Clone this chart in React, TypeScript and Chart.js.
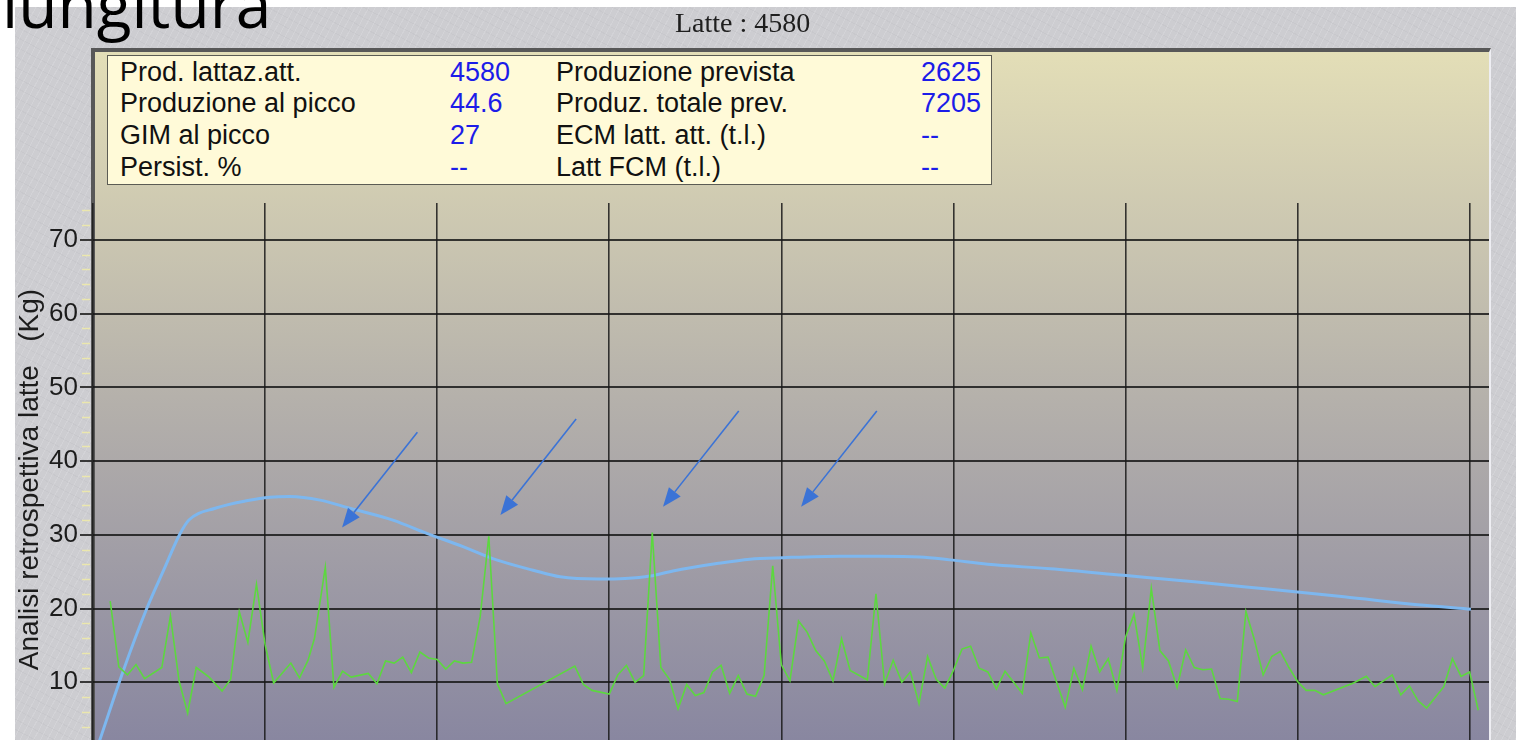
import React, { useEffect, useRef } from 'react';
import { Chart, registerables } from 'chart.js';

Chart.register(...registerables);

// ---- Data ----
const greenDays = [
  4, 6, 8, 10, 12, 16, 18, 20, 22, 24, 27, 30, 32, 34, 36, 38, 40, 42, 46, 48,
  50, 51.5, 54, 56, 58, 60, 64, 66, 68, 70, 72, 74, 76, 78, 80, 82, 84, 86, 88, 90,
  92, 94, 96, 112, 114, 116, 120, 122, 124, 126, 128, 130, 132, 134, 136, 138, 140, 142, 144, 146,
  148, 150, 152, 154, 156, 158, 160, 162, 164, 166, 168, 170, 172, 174, 176, 180, 182, 184, 186, 188,
  190, 192, 194, 196, 198, 200, 202, 204, 206, 208, 210, 212, 216, 218, 220, 222, 224, 226, 228, 230,
  232, 234, 236, 238, 240, 242, 244, 246, 248, 250, 252, 254, 256, 258, 260, 262, 264, 266, 268, 270,
  272, 274, 276, 278, 280, 282, 284, 286, 293, 296, 298, 302, 304, 306, 308, 310, 314, 316, 318, 320, 322,
];
const greenValues = [
  21.0, 12.1, 11.0, 12.4, 10.5, 12.0, 19.0, 10.2, 5.8, 12.0, 10.7, 8.8, 10.4, 19.6, 15.4, 23.3, 15.1, 9.9, 12.6, 10.6,
  13.0, 16.0, 25.6, 9.3, 11.5, 10.7, 11.2, 9.8, 12.9, 12.6, 13.4, 11.3, 14.1, 13.3, 13.1, 11.8, 12.9, 12.6, 12.7, 18.9,
  29.8, 9.8, 7.1, 12.2, 9.7, 8.9, 8.4, 11.0, 12.3, 10.0, 10.9, 30.3, 12.0, 10.4, 6.4, 9.7, 8.2, 8.6, 11.4, 12.3,
  8.5, 10.9, 8.4, 8.1, 10.9, 25.8, 12.4, 10.2, 18.3, 16.8, 14.3, 12.9, 10.2, 15.9, 11.6, 10.3, 22.0, 9.8, 13.0, 10.0,
  11.4, 7.1, 13.5, 10.4, 9.2, 11.6, 14.5, 14.9, 11.9, 11.4, 9.1, 11.5, 8.5, 16.7, 13.3, 13.4, 10.0, 6.6, 11.9, 9.0,
  14.9, 11.4, 13.2, 8.9, 16.1, 19.2, 12.0, 22.7, 14.3, 12.9, 9.3, 14.4, 12.0, 11.7, 11.8, 7.8, 7.7, 7.4, 19.6, 15.7,
  11.0, 13.5, 14.2, 12.0, 10.1, 8.9, 8.9, 8.3, 9.9, 10.8, 9.4, 11.0, 8.3, 9.5, 7.5, 6.5, 9.4, 13.2, 10.8, 11.4, 6.2,
];

const curveDays = [
  0.3, 1.6, 7, 12.5, 16.5, 20.2, 22.3, 28.4, 36.0, 41.1, 45.8, 52.8, 59.7, 69.7, 77.6, 86.0, 93.8, 102.3,
  108.6, 117.4, 123.7, 129.5, 134.8, 145.0, 152.7, 160.4, 173.6, 182.9, 192.2, 199.2, 208.0, 222.5,
  239.6, 256.6, 273.7, 290.8, 307.9, 320.3,
];
const curveValues = [
  0.0, 2.2, 11.5, 20.0, 25.3, 30.1, 32.0, 33.6, 34.65, 35.1, 35.2, 34.7, 33.6, 32.0, 30.2, 28.4, 26.6, 25.2,
  24.3, 24.0, 24.07, 24.4, 25.1, 26.1, 26.7, 26.9, 27.1, 27.1, 27.0, 26.6, 26.0, 25.4,
  24.5, 23.6, 22.6, 21.6, 20.5, 19.9,
];

const arrowFromDays = [75.4, 112.3, 150.1, 182.2];
const arrowFromValues = [43.9, 45.7, 46.8, 46.8];
const arrowToDays = [57.9, 94.7, 132.5, 164.6];
const arrowToValues = [31.0, 32.7, 33.8, 33.8];

const infoLabelsLeft = ['Prod. lattaz.att.', 'Produzione al picco', 'GIM al picco', 'Persist. %'];
const infoValuesLeft = ['4580', '44.6', '27', '--'];
const infoLabelsRight = ['Produzione prevista', 'Produz. totale prev.', 'ECM latt. att. (t.l.)', 'Latt FCM (t.l.)'];
const infoValuesRight = ['2625', '7205', '--', '--'];

const chartTitle = 'Latte : 4580';
const yAxisTitle = 'Analisi retrospettiva latte   (Kg)';
const slideHeading = 'lungitura';

const SANS = "'Liberation Sans', Arial, sans-serif";

const arrowPlugin = {
  id: 'arrowsAnnot',
  afterDatasetsDraw(chart: any) {
    const { ctx } = chart;
    const xs = chart.scales.x;
    const ys = chart.scales.y;
    ctx.save();
    ctx.strokeStyle = '#3b73d6';
    ctx.fillStyle = '#3b73d6';
    ctx.lineWidth = 1.6;
    for (let i = 0; i < arrowFromDays.length; i++) {
      const x1 = xs.getPixelForValue(arrowFromDays[i]);
      const y1 = ys.getPixelForValue(arrowFromValues[i]);
      const x2 = xs.getPixelForValue(arrowToDays[i]);
      const y2 = ys.getPixelForValue(arrowToValues[i]);
      const a = Math.atan2(y2 - y1, x2 - x1);
      const head = 19;
      const half = 7.5;
      const bx = x2 - head * Math.cos(a);
      const by = y2 - head * Math.sin(a);
      ctx.beginPath();
      ctx.moveTo(x1, y1);
      ctx.lineTo(bx, by);
      ctx.stroke();
      ctx.beginPath();
      ctx.moveTo(x2, y2);
      ctx.lineTo(bx + half * Math.sin(a), by - half * Math.cos(a));
      ctx.lineTo(bx - half * Math.sin(a), by + half * Math.cos(a));
      ctx.closePath();
      ctx.fill();
    }
    ctx.restore();
  },
};

const minorTickPlugin = {
  id: 'minorTicks',
  afterDraw(chart: any) {
    const { ctx, chartArea } = chart;
    const ys = chart.scales.y;
    ctx.save();
    ctx.strokeStyle = '#ebe7ad';
    ctx.lineWidth = 1.5;
    for (let v = 2; v < 75; v += 2) {
      if (v % 10 === 0) continue;
      const py = Math.round(ys.getPixelForValue(v)) + 0.5;
      ctx.beginPath();
      ctx.moveTo(chartArea.left - 11, py);
      ctx.lineTo(chartArea.left - 3, py);
      ctx.stroke();
    }
    ctx.restore();
  },
};

export default function App() {
  const canvasRef = useRef<HTMLCanvasElement | null>(null);

  useEffect(() => {
    if (!canvasRef.current) return;
    const chart = new Chart(canvasRef.current, {
      type: 'line',
      data: {
        datasets: [
          {
            label: 'Latte',
            data: greenDays.map((d, i) => ({ x: d, y: greenValues[i] })),
            borderColor: '#5cd83f',
            borderWidth: 1.6,
            pointRadius: 0,
            tension: 0,
            fill: false,
          },
          {
            label: 'Curva',
            data: curveDays.map((d, i) => ({ x: d, y: curveValues[i] })),
            borderColor: '#7db7ef',
            borderWidth: 3,
            pointRadius: 0,
            cubicInterpolationMode: 'monotone',
            fill: false,
          },
        ],
      },
      options: {
        animation: false,
        responsive: false,
        events: [],
        layout: { padding: { top: 203, right: 27, left: 0, bottom: 0 } },
        plugins: {
          legend: { display: false },
          title: { display: false },
          tooltip: { enabled: false },
        },
        scales: {
          x: {
            type: 'linear',
            min: 0,
            max: 324.5,
            ticks: { display: false, stepSize: 40, includeBounds: false },
            grid: { color: 'rgba(25,25,25,0.85)', lineWidth: 1.6, drawTicks: false },
            border: { display: false },
            afterFit: (s: any) => {
              s.height = 44;
            },
          },
          y: {
            type: 'linear',
            min: 0,
            max: 75,
            ticks: {
              stepSize: 10,
              includeBounds: false,
              padding: 2,
              color: '#1c1c1c',
              font: { family: SANS, size: 26 },
            },
            grid: {
              color: 'rgba(25,25,25,0.85)',
              lineWidth: 2,
              tickLength: 13,
              tickColor: 'rgba(40,40,40,0.9)',
              tickWidth: 2,
            },
            border: { display: false },
            title: {
              display: true,
              text: yAxisTitle,
              color: '#1c1c1c',
              font: { family: SANS, size: 28 },
              padding: { top: 13, bottom: 0 },
            },
            afterFit: (s: any) => {
              s.width = 93;
            },
          },
        },
      },
      plugins: [arrowPlugin, minorTickPlugin],
    } as any);
    return () => chart.destroy();
  }, []);

  const rowH = 31.7;
  return (
    <div
      style={{
        position: 'fixed',
        left: 0,
        top: 0,
        width: 1516,
        height: 740,
        overflow: 'hidden',
        background: '#ffffff',
      }}
    >
      <div
        style={{
          position: 'absolute',
          left: 15,
          top: 7,
          right: 0,
          bottom: 0,
          backgroundColor: '#cdcdd1',
          backgroundImage:
            'repeating-linear-gradient(118deg, rgba(255,255,255,0.13) 0px, rgba(255,255,255,0.13) 1px, rgba(255,255,255,0) 1px, rgba(255,255,255,0) 6px), repeating-linear-gradient(28deg, rgba(120,120,130,0.06) 0px, rgba(120,120,130,0.06) 1px, rgba(0,0,0,0) 1px, rgba(0,0,0,0) 9px)',
        }}
      />
      <div
        style={{
          position: 'absolute',
          left: 91,
          top: 48,
          width: 1400,
          height: 760,
          boxSizing: 'border-box',
          borderLeft: '4px solid #585858',
          borderTop: '4px solid #585858',
          borderRight: '2px solid #eeeef3',
          background: 'linear-gradient(to bottom, #e3deb7 0px, #b5b1ab 345px, #8886a0 693px)',
        }}
      />
      <canvas
        ref={canvasRef}
        width={1516}
        height={800}
        style={{ position: 'absolute', left: 0, top: 0, width: 1516, height: 800 }}
      />
      <div
        style={{
          position: 'absolute',
          left: 107,
          top: 55,
          width: 885,
          height: 130,
          boxSizing: 'border-box',
          border: '1.5px solid #5c5c54',
          background: '#fffad8',
          fontFamily: SANS,
          fontSize: 27,
          lineHeight: rowH + 'px',
          whiteSpace: 'nowrap',
        }}
      >
        {infoLabelsLeft.map((t, i) => (
          <React.Fragment key={i}>
            <span style={{ position: 'absolute', left: 12, top: 0.5 + i * rowH, color: '#111' }}>{t}</span>
            <span style={{ position: 'absolute', left: 342, top: 0.5 + i * rowH, color: '#1c1ce8' }}>
              {infoValuesLeft[i]}
            </span>
            <span style={{ position: 'absolute', left: 448, top: 0.5 + i * rowH, color: '#111' }}>
              {infoLabelsRight[i]}
            </span>
            <span style={{ position: 'absolute', left: 813, top: 0.5 + i * rowH, color: '#1c1ce8' }}>
              {infoValuesRight[i]}
            </span>
          </React.Fragment>
        ))}
      </div>
      <div
        style={{
          position: 'absolute',
          left: 675,
          top: 9,
          fontFamily: "'Liberation Serif', 'Times New Roman', serif",
          fontSize: 28,
          lineHeight: '28px',
          color: '#1e1e1e',
          whiteSpace: 'nowrap',
        }}
      >
        {chartTitle}
      </div>
      <div
        style={{
          position: 'absolute',
          left: 2,
          top: -28,
          fontFamily: "'Open Sans', 'Noto Sans', sans-serif",
          fontSize: 64,
          lineHeight: '64px',
          color: '#000',
          whiteSpace: 'nowrap',
        }}
      >
        {slideHeading}
      </div>
    </div>
  );
}
